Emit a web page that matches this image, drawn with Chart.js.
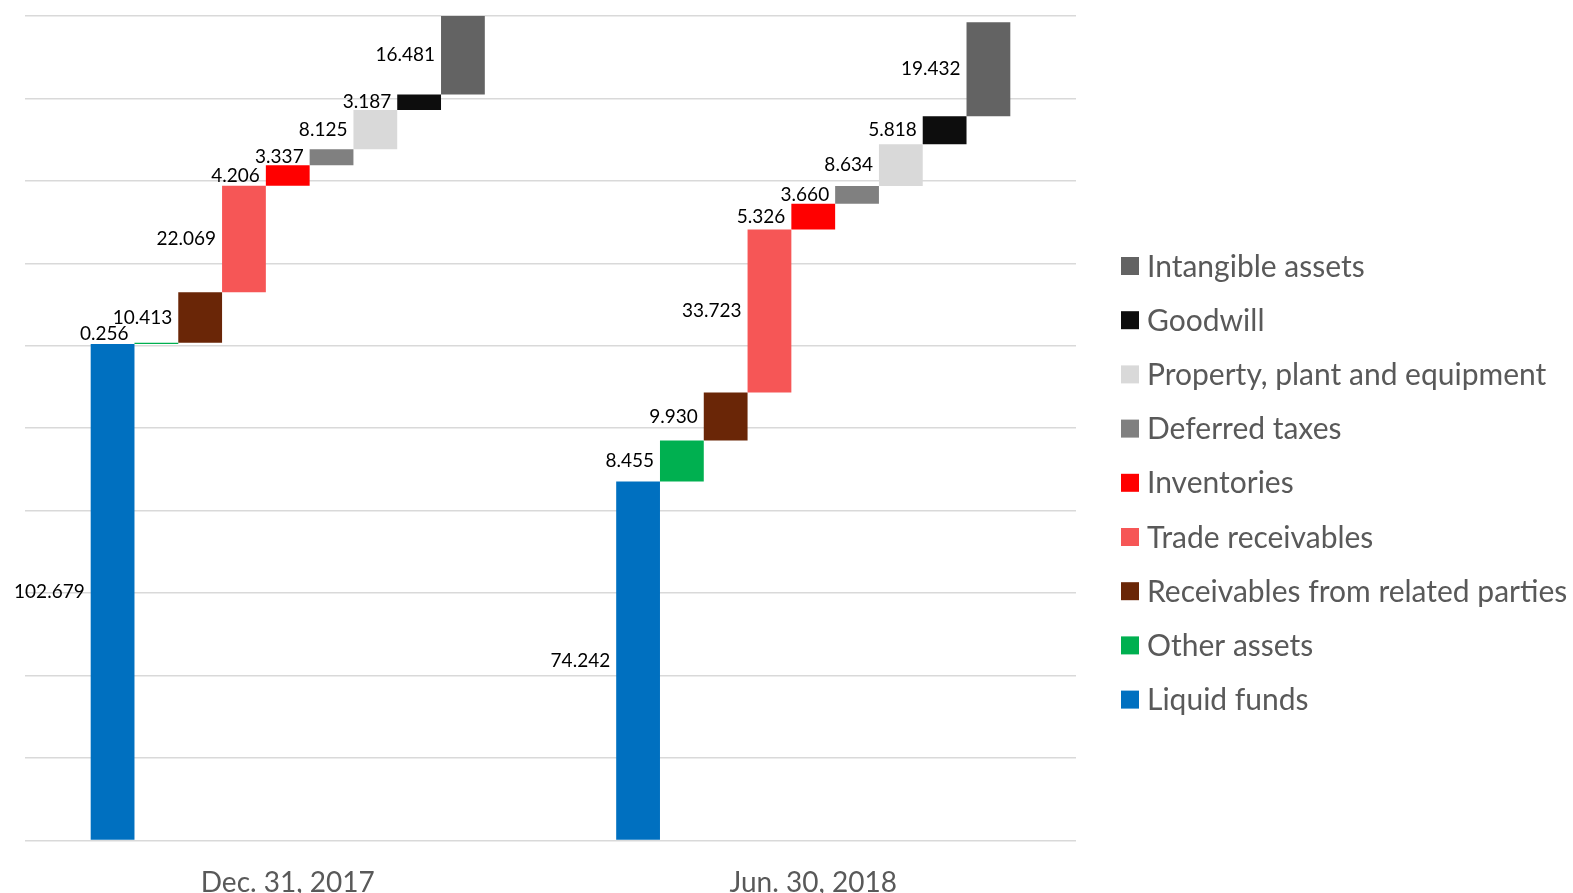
<!DOCTYPE html>
<html>
<head>
<meta charset="utf-8">
<script src="https://cdn.jsdelivr.net/npm/chart.js@4/dist/chart.umd.min.js"></script>
<style>
  html, body { margin: 0; padding: 0; background: #fff; overflow: hidden; }
  #wrap { width: 1573px; height: 922px; position: relative; }
</style>
</head>
<body>
<div id="wrap"><canvas id="assetChart"></canvas></div>
<script>
// categories (x axis)
const periods = ["Dec. 31, 2017", "Jun. 30, 2018"];

// waterfall components, bottom to top
const components = [
  "Liquid funds",
  "Other assets",
  "Receivables from related parties",
  "Trade receivables",
  "Inventories",
  "Deferred taxes",
  "Property, plant and equipment",
  "Goodwill",
  "Intangible assets"
];

const dec2017 = [102.679, 0.256, 10.413, 22.069, 4.206, 3.337, 8.125, 3.187, 16.481];
const jun2018 = [74.242, 8.455, 9.930, 33.723, 5.326, 3.660, 8.634, 5.818, 19.432];

const colors = ["#0070C0", "#00B050", "#6A2607", "#F65656", "#FF0000", "#808080", "#D9D9D9", "#0D0D0D", "#636363"];

const yMax = 170.5;
const yStep = 17.05;

// build floating [start, end] bars per component
function runningBars(values) {
  let total = 0;
  return values.map(v => {
    const bar = [total, total + v];
    total += v;
    return bar;
  });
}
const decBars = runningBars(dec2017);
const junBars = runningBars(jun2018);

const datasets = components.map((name, i) => ({
  label: name,
  data: [decBars[i], junBars[i]],
  raw: [dec2017[i], jun2018[i]],
  backgroundColor: colors[i],
  borderWidth: 0,
  categoryPercentage: 0.75,
  barPercentage: 1.0
}));

// value labels to the left of each bar
const valueLabels = {
  id: "valueLabels",
  afterDatasetsDraw(chart) {
    const ctx = chart.ctx;
    ctx.save();
    ctx.font = "19px Lato";
    ctx.fillStyle = "#000";
    ctx.textAlign = "right";
    ctx.textBaseline = "middle";
    chart.data.datasets.forEach((ds, di) => {
      const meta = chart.getDatasetMeta(di);
      meta.data.forEach((bar, j) => {
        const top = Math.max(Math.min(bar.y, bar.base), chart.chartArea.top);
        const bottom = Math.max(bar.y, bar.base);
        let y = (top + bottom) / 2;
        if (bottom - top < 6) y = top - 9;
        ctx.fillText(ds.raw[j].toFixed(3), bar.x - bar.width / 2 - 6, y);
      });
    });
    ctx.restore();
  }
};

// legend on the right, reversed order
const sideLegend = {
  id: "sideLegend",
  afterDraw(chart) {
    const ctx = chart.ctx;
    ctx.save();
    ctx.font = "30px Lato";
    ctx.textAlign = "left";
    ctx.textBaseline = "middle";
    const n = chart.data.datasets.length;
    const x0 = 1121, firstY = 266, gap = 54.2, box = 18;
    for (let k = 0; k < n; k++) {
      const ds = chart.data.datasets[n - 1 - k];
      const y = firstY + k * gap;
      ctx.fillStyle = ds.backgroundColor;
      ctx.fillRect(x0, y - box / 2, box, box);
      ctx.fillStyle = "#595959";
      ctx.fillText(ds.label, 1147, y + 1);
    }
    ctx.restore();
  }
};

new Chart(document.getElementById("assetChart"), {
  type: "bar",
  data: { labels: periods, datasets },
  options: {
    responsive: true,
    maintainAspectRatio: false,
    animation: false,
    layout: { padding: { left: 25, right: 497, top: 16, bottom: 4 } },
    plugins: {
      legend: { display: false },
      tooltip: { enabled: false }
    },
    scales: {
      x: {
        grid: { display: false },
        border: { display: false },
        ticks: {
          color: "#595959",
          font: { family: "Lato", size: 28 },
          padding: 18
        }
      },
      y: {
        min: 0,
        max: yMax,
        ticks: { display: false, stepSize: yStep },
        grid: { color: "#D9D9D9", lineWidth: 1.5, drawTicks: false },
        border: { display: false }
      }
    }
  },
  plugins: [valueLabels, sideLegend]
});
</script>
</body>
</html>
